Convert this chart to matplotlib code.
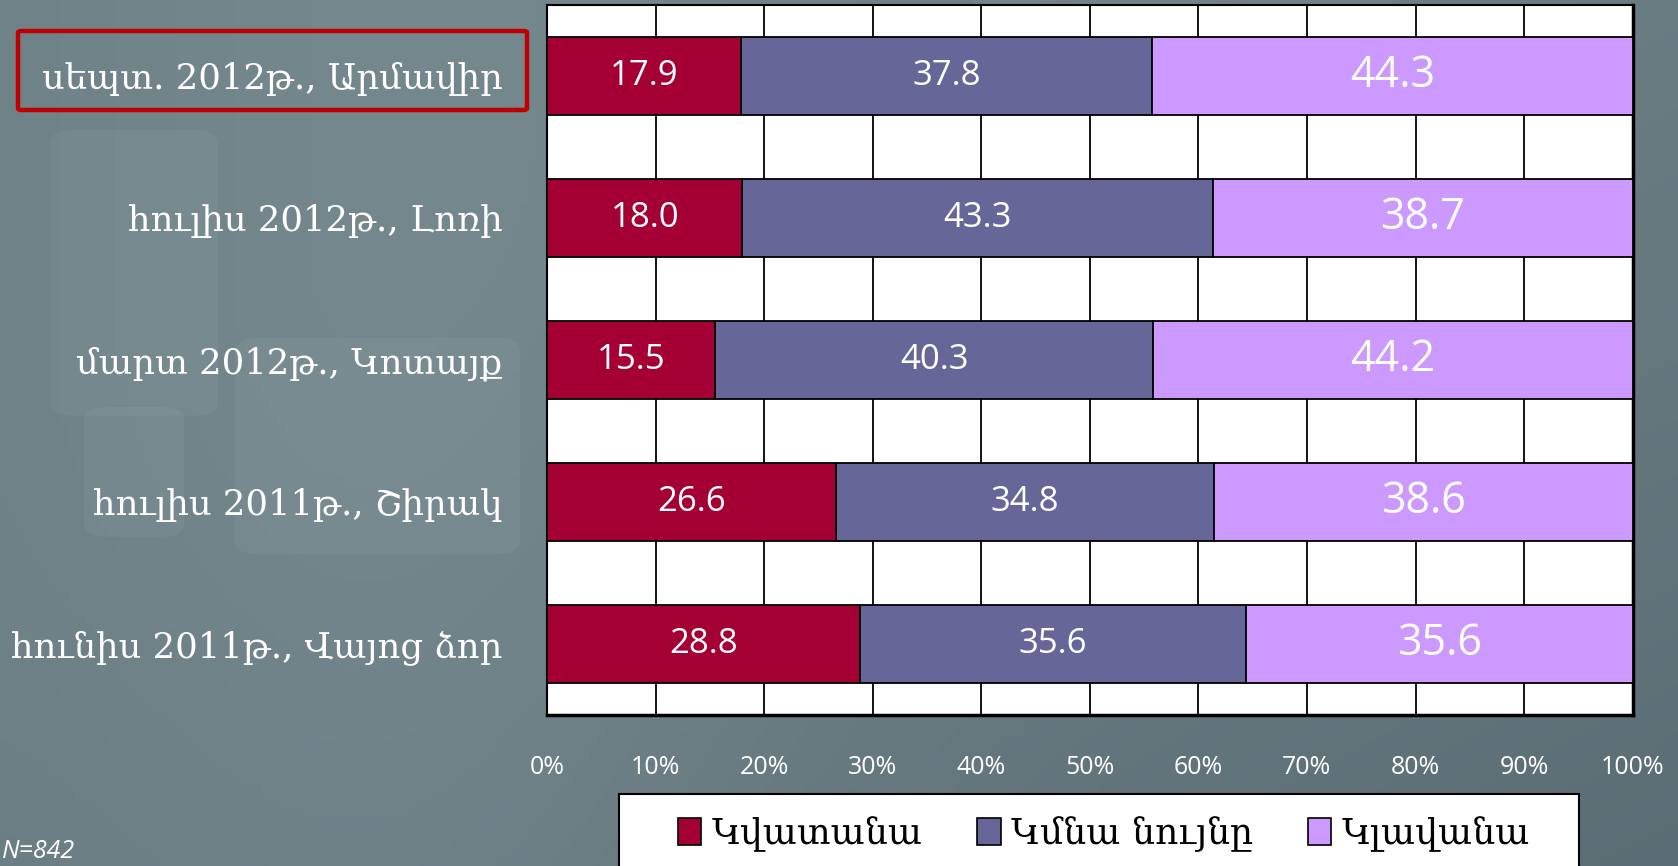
import numpy as np
import matplotlib.pyplot as plt
from matplotlib.patches import FancyBboxPatch, Patch, Rectangle

# survey waves (top to bottom)
waves = ['սեպտ. 2012թ., Արմավիր', 'հուլիս 2012թ., Լոռի', 'մարտ 2012թ., Կոտայք',
         'հուլիս 2011թ., Շիրակ', 'հունիս 2011թ., Վայոց ձոր']
worse = [17.9, 18.0, 15.5, 26.6, 28.8]
same = [37.8, 43.3, 40.3, 34.8, 35.6]
better = [44.3, 38.7, 44.2, 38.6, 35.6]
series_names = ['Կվատանա', 'Կմնա նույնը', 'Կլավանա']
colors = ['#A50034', '#666699', '#CC99FF']
pct_ticks = np.arange(0, 101, 10)

armenian = ['DejaVu Serif']
fig = plt.figure(figsize=(16.78, 8.66), dpi=100)

# slide background: soft grey-teal gradient with faint rounded shapes
bg = fig.add_axes([0, 0, 1, 1], zorder=-10)
yy, xx = np.mgrid[0:1:200j, 0:1:200j]
base = np.array([0x6C, 0x80, 0x86]) / 255
dark = np.array([0x58, 0x6A, 0x71]) / 255
t = np.clip((xx * 0.6 + yy * 0.6) - 0.3, 0, 1) ** 1.5
img = base[None, None, :] * (1 - t[..., None]) + dark[None, None, :] * t[..., None]
img[:, :] += (0.03 * np.exp(-((xx - 0.25) ** 2) / 0.05))[..., None]
bg.imshow(np.clip(img, 0, 1), extent=[0, 1, 0, 1], aspect='auto', origin='upper')
for (x0, y0, w, h) in [(0.03, 0.52, 0.10, 0.33), (0.14, 0.36, 0.17, 0.25),
                       (0.05, 0.38, 0.06, 0.15), (0.58, 0.90, 0.25, 0.12)]:
    bg.add_patch(FancyBboxPatch((x0, y0), w, h, boxstyle='round,pad=0,rounding_size=0.015',
                                transform=bg.transAxes, facecolor='white', alpha=0.045,
                                edgecolor='none'))
bg.set_xlim(0, 1)
bg.set_ylim(0, 1)
bg.axis('off')

ax = fig.add_axes([0.326, 0.1744, 0.647, 0.8200])
ax.set_facecolor('white')
y = np.arange(len(waves))
left = np.zeros(len(waves))
for vals, c in zip([worse, same, better], colors):
    ax.barh(y, vals, left=left, height=0.55, color=c, edgecolor='black', linewidth=1.3, zorder=3)
    left += np.array(vals)

# value labels inside segments
left = np.zeros(len(waves))
for k, vals in enumerate([worse, same, better]):
    size = 31 if k == 2 else 25
    for i, v in enumerate(vals):
        ax.text(left[i] + v / 2, y[i], f'{v:.1f}', ha='center', va='center',
                color='white', fontsize=size, family='Open Sans', zorder=4)
    left += np.array(vals)

ax.set_xlim(0, 100)
ax.set_ylim(len(waves) - 0.5, -0.5)
ax.set_xticks(pct_ticks)
ax.set_xticklabels([f'{p}%' for p in pct_ticks], color='white', fontsize=18, family='Open Sans')
ax.tick_params(axis='x', length=0, pad=29)
ax.set_yticks(y)
ax.set_yticklabels(waves, color='white', fontsize=25.5, family=armenian)
ax.tick_params(axis='y', length=0, pad=32)
ax.grid(axis='x', color='black', linewidth=1.3, zorder=0)
ax.set_axisbelow(True)
for s in ax.spines.values():
    s.set_color('black')
    s.set_linewidth(1.5)
ax.spines['right'].set_linewidth(2.5)
ax.spines['bottom'].set_linewidth(2.5)

# highlight box around the latest wave
fig.patches.append(FancyBboxPatch((18 / 1678, 1 - 110 / 866), 509 / 1678, 79 / 866,
                                  boxstyle='round,pad=0,rounding_size=0.002',
                                  transform=fig.transFigure, fill=False,
                                  edgecolor='#C00000', linewidth=3.2))

# legend panel runs off the bottom edge
fig.patches.append(Rectangle((619 / 1678, -0.05), 960 / 1678, 0.05 + 72 / 866,
                             transform=fig.transFigure, facecolor='white',
                             edgecolor='black', linewidth=1.5, zorder=5))
handles = [Patch(facecolor=c, edgecolor='black', linewidth=1.2) for c in colors]
leg = fig.legend(handles, series_names, loc='center', ncol=3,
                 bbox_to_anchor=(1104 / 1678, 1 - 834 / 866),
                 prop={'family': armenian, 'size': 26}, frameon=False,
                 handlelength=0.65, handleheight=0.8, handletextpad=0.3,
                 columnspacing=1.5, borderpad=0, borderaxespad=0)
leg.set_zorder(6)

fig.text(2 / 1678, 1 - 852 / 866, 'N=842', color='white', fontsize=18, style='italic',
         family='Open Sans', va='center', ha='left')

fig.savefig('out.png', dpi=100)
